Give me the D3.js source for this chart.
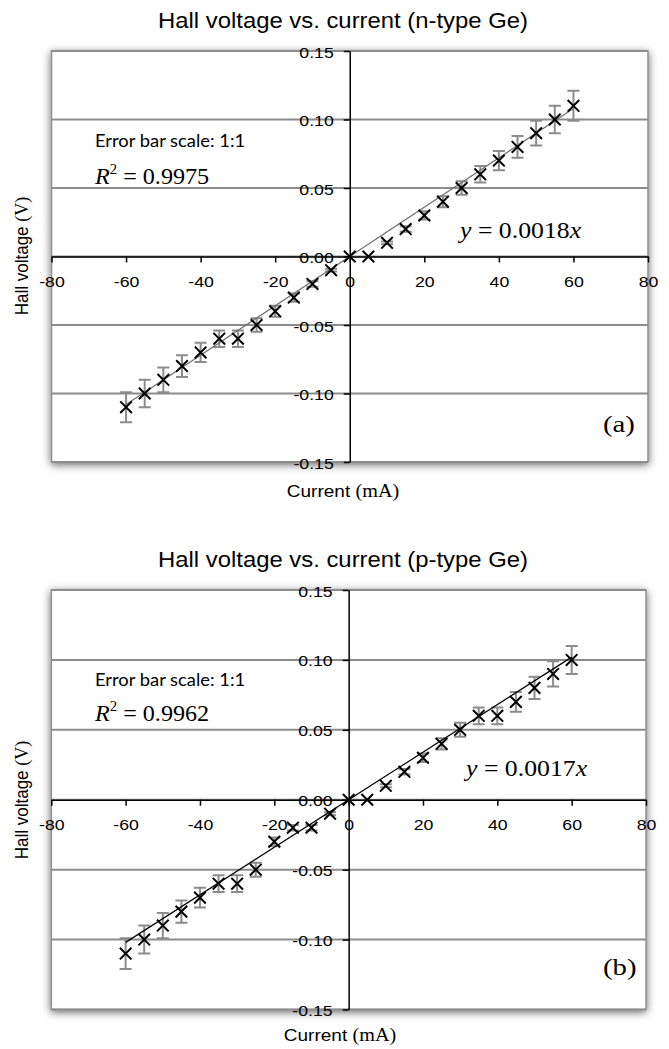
<!DOCTYPE html>
<html>
<head>
<meta charset="utf-8">
<script src="https://cdn.jsdelivr.net/npm/d3@7"></script>
<style>
  html, body { margin: 0; padding: 0; background: #ffffff; }
  svg { display: block; }
</style>
</head>
<body>
<svg id="chart" width="669" height="1049"></svg>
<script>
// ---------------- DATA ----------------
const currents = [-60, -55, -50, -45, -40, -35, -30, -25, -20, -15, -10, -5, 0, 5, 10, 15, 20, 25, 30, 35, 40, 45, 50, 55, 60];

const nTypeVoltage = [-0.11, -0.10, -0.09, -0.08, -0.07, -0.06, -0.06, -0.05, -0.04, -0.03, -0.02, -0.01, 0.00, 0.00, 0.01, 0.02, 0.03, 0.04, 0.05, 0.06, 0.07, 0.08, 0.09, 0.10, 0.11];
const nTypeError   = [0.011, 0.010, 0.009, 0.008, 0.007, 0.006, 0.006, 0.005, 0.004, 0.003, 0.002, 0.001, 0.000, 0.000, 0.001, 0.002, 0.003, 0.004, 0.005, 0.006, 0.007, 0.008, 0.009, 0.010, 0.011];

const pTypeVoltage = [-0.11, -0.10, -0.09, -0.08, -0.07, -0.06, -0.06, -0.05, -0.03, -0.02, -0.02, -0.01, 0.00, 0.00, 0.01, 0.02, 0.03, 0.04, 0.05, 0.06, 0.06, 0.07, 0.08, 0.09, 0.10];
const pTypeError   = [0.011, 0.010, 0.009, 0.008, 0.007, 0.006, 0.006, 0.005, 0.003, 0.002, 0.002, 0.001, 0.000, 0.000, 0.001, 0.002, 0.003, 0.004, 0.005, 0.006, 0.006, 0.007, 0.008, 0.009, 0.010];

const trendRange = [-60, 60];
const nTypeSlope = 0.0018;
const pTypeSlope = 0.0017;

const xTicks = [-80, -60, -40, -20, 0, 20, 40, 60, 80];
const yTicks = [-0.15, -0.10, -0.05, 0.00, 0.05, 0.10, 0.15];
const xDomain = [-80, 80];
const yDomain = [-0.15, 0.15];

const titles = ["Hall voltage vs. current (n-type Ge)", "Hall voltage vs. current (p-type Ge)"];
const slopeLabels = ["0.0018", "0.0017"];
const r2Labels = ["0.9975", "0.9962"];
const panelLabels = ["(a)", "(b)"];
const noteLabel = "Error bar scale: 1:1";

// ---------------- LAYOUT ----------------
const SANS = "'Liberation Sans', Arial, sans-serif";
const SERIF = "'Liberation Serif', 'Times New Roman', serif";
const NOTE = "Lato, 'Open Sans', sans-serif";

const charts = [
  {
    x0: 51.5, x1: 648, y0: 51, y1: 462,
    voltage: nTypeVoltage, error: nTypeError, slope: nTypeSlope, trendColor: "#6e6e6e",
    title: titles[0], titleX: 343, titleY: 28,
    yLabelX: 28, yLabelY: 256, xLabelX: 343, xLabelY: 497,
    noteX: 95, noteY: 147, r2X: 95, r2Y: 184, eqX: 460, eqY: 238,
    panelX: 603, panelY: 432, slopeLabel: slopeLabels[0], r2: r2Labels[0], panel: panelLabels[0]
  },
  {
    x0: 51.3, x1: 646, y0: 590, y1: 1009.5,
    voltage: pTypeVoltage, error: pTypeError, slope: pTypeSlope, trendColor: "#000000",
    title: titles[1], titleX: 343, titleY: 567,
    yLabelX: 28, yLabelY: 800, xLabelX: 340, xLabelY: 1041,
    noteX: 95, noteY: 686, r2X: 95, r2Y: 721, eqX: 466, eqY: 776,
    panelX: 603, panelY: 975, slopeLabel: slopeLabels[1], r2: r2Labels[1], panel: panelLabels[1]
  }
];

const svg = d3.select("#chart");
const defs = svg.append("defs");
const f = defs.append("filter").attr("id", "shadow")
  .attr("x", "-10%").attr("y", "-10%").attr("width", "120%").attr("height", "120%");
f.append("feDropShadow").attr("dx", 0).attr("dy", 2).attr("stdDeviation", 4.5)
  .attr("flood-color", "#000").attr("flood-opacity", 0.6);

const fmt = d3.formatLocale({decimal: ".", thousands: ",", grouping: [3], currency: ["", ""], minus: "-"});
const yFmt = fmt.format(".2f");
const xFmt = fmt.format("d");

function sText(parent, x, y, opts, parts) {
  let tr = `translate(${x},${y}) scale(${opts.k || 1},1)`;
  if (opts.rotate) tr += ` rotate(${opts.rotate})`;
  const g = parent.append("g").attr("transform", tr);
  const t = g.append("text")
    .attr("text-anchor", opts.anchor || "start")
    .attr("font-family", opts.family)
    .attr("font-size", opts.size)
    .attr("fill", "#000");
  parts.forEach(p => {
    const ts = t.append("tspan").text(p.text);
    if (p.family) ts.attr("font-family", p.family);
    if (p.italic) ts.attr("font-style", "italic");
    if (p.size) ts.attr("font-size", p.size);
    if (p.dy) ts.attr("dy", p.dy);
  });
  return g;
}

const TK = 1.18; // tick label horizontal factor
const TS = 15;   // tick label size

charts.forEach(c => {
  const g = svg.append("g");
  const x = d3.scaleLinear().domain(xDomain).range([c.x0, c.x1]);
  const y = d3.scaleLinear().domain(yDomain).range([c.y1, c.y0]);

  // frame with shadow
  g.append("rect")
    .attr("x", c.x0).attr("y", c.y0)
    .attr("width", c.x1 - c.x0).attr("height", c.y1 - c.y0)
    .attr("fill", "#fff").attr("stroke", "#8c8c8c").attr("stroke-width", 1.5)
    .attr("filter", "url(#shadow)");

  // gridlines
  g.append("g").selectAll("line").data(yTicks).join("line")
    .attr("x1", c.x0).attr("x2", c.x1)
    .attr("y1", d => y(d)).attr("y2", d => y(d))
    .attr("stroke", "#8c8c8c").attr("stroke-width", 2);

  // x axis
  const xa = g.append("g").attr("transform", `translate(0,${y(0)})`)
    .call(d3.axisBottom(x).tickValues(xTicks).tickSize(6).tickSizeOuter(0).tickFormat(xFmt));
  xa.select(".domain").attr("stroke", "#000").attr("stroke-width", 1.5);
  xa.selectAll(".tick line").attr("stroke", "#000").attr("stroke-width", 1.5);
  xa.selectAll(".tick text")
    .attr("y", 0).attr("dy", 0)
    .attr("transform", `translate(0,30) scale(${TK},1)`)
    .attr("font-family", SANS).attr("font-size", TS).attr("fill", "#000");

  // y axis
  const ya = g.append("g").attr("transform", `translate(${x(0)},0)`)
    .call(d3.axisLeft(y).tickValues(yTicks).tickSize(6).tickSizeOuter(0).tickFormat(yFmt));
  ya.select(".domain").attr("stroke", "#000").attr("stroke-width", 1.5);
  ya.selectAll(".tick line").attr("stroke", "#000").attr("stroke-width", 1.5);
  ya.selectAll(".tick text")
    .attr("x", 0).attr("dy", 0)
    .attr("transform", `translate(-16,6) scale(${TK},1)`)
    .attr("font-family", SANS).attr("font-size", TS).attr("fill", "#000");

  const pts = currents.map((cur, i) => ({cur, v: c.voltage[i], e: c.error[i]}));

  // error bars
  const eb = g.append("g").attr("stroke", "#8c8c8c").attr("stroke-width", 2).attr("fill", "none");
  const withErr = pts.filter(p => p.e > 0);
  eb.selectAll("path").data(withErr).join("path")
    .attr("d", p => {
      const px = x(p.cur), yt = y(p.v + p.e), yb = y(p.v - p.e), w = 6;
      const pa = d3.path();
      pa.moveTo(px, yt); pa.lineTo(px, yb);
      pa.moveTo(px - w, yt); pa.lineTo(px + w, yt);
      pa.moveTo(px - w, yb); pa.lineTo(px + w, yb);
      return pa.toString();
    });

  // trend line
  const line = d3.line().x(d => x(d)).y(d => y(c.slope * d));
  g.append("path").datum(trendRange)
    .attr("d", line).attr("fill", "none")
    .attr("stroke", c.trendColor).attr("stroke-width", 1.2);

  // X markers
  g.append("g").selectAll("path").data(pts).join("path")
    .attr("transform", p => `translate(${x(p.cur)},${y(p.v)})`)
    .attr("d", d3.symbol().type(d3.symbolX).size(90))
    .attr("fill", "none").attr("stroke", "#000").attr("stroke-width", 2);

  // title
  sText(svg, c.titleX, c.titleY, {family: SANS, size: 22, k: 1.085, anchor: "middle"}, [{text: c.title}]);
  // y label
  sText(svg, c.yLabelX, c.yLabelY, {family: SANS, size: 17, k: 1.1, anchor: "middle", rotate: -90},
    [{text: "Hall voltage  "}, {text: "(V)", family: SERIF, size: 18}]);
  // x label
  sText(svg, c.xLabelX, c.xLabelY, {family: SANS, size: 17, k: 1.12, anchor: "middle"},
    [{text: "Current "}, {text: "(mA)", family: SERIF, size: 18}]);
  // note
  sText(svg, c.noteX, c.noteY, {family: NOTE, size: 17, anchor: "start", k: 1.08}, [{text: noteLabel}]);
  // R^2
  sText(svg, c.r2X, c.r2Y, {family: SERIF, size: 23, anchor: "start", k: 1.05},
    [{text: "R", italic: true}, {text: "2", size: 14, dy: -10}, {text: " = " + c.r2, dy: 10}]);
  // equation
  sText(svg, c.eqX, c.eqY, {family: SERIF, size: 23, anchor: "start", k: 1.12},
    [{text: "y", italic: true}, {text: " = " + c.slopeLabel}, {text: "x", italic: true}]);
  // panel label
  sText(svg, c.panelX, c.panelY, {family: SERIF, size: 24, anchor: "start", k: 1.2}, [{text: c.panel}]);
});
</script>
</body>
</html>
